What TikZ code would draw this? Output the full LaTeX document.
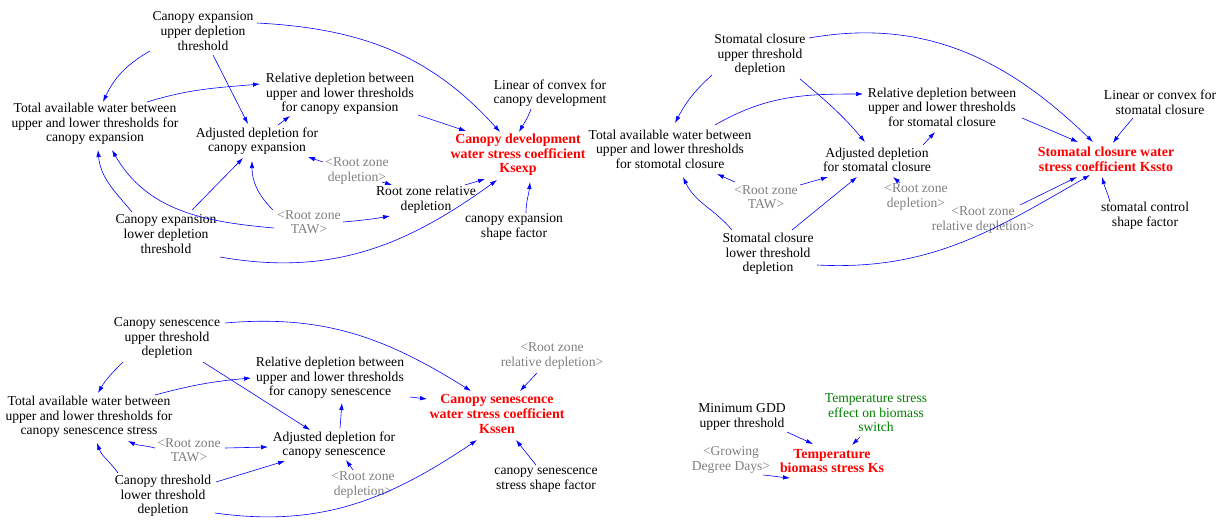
\documentclass[tikz,border=0pt]{standalone}
\usepackage{fontspec}
\setmainfont{Liberation Serif}
\usepackage{tikz}
\usetikzlibrary{arrows.meta, calc}
\definecolor{linkblue}{RGB}{0,0,255}
\definecolor{shadowgray}{RGB}{128,128,128}
\definecolor{stressred}{RGB}{255,0,0}
\definecolor{switchgreen}{RGB}{0,128,0}

\begin{document}
\begin{tikzpicture}[
    x=1pt, y=1pt,
    var/.style={align=center, inner sep=1pt,
                font=\fontsize{13.6}{14.6}\selectfont},
    shadow/.style={var, text=shadowgray},
    stress/.style={var, text=stressred, font=\fontsize{13.9}{14.6}\selectfont\bfseries},
    switchvar/.style={var, text=switchgreen},
    arrow/.style={-{Latex[length=7pt,width=4.5pt]}, draw=linkblue, line width=0.6pt}
]
\path[use as bounding box, fill=white] (0,0) rectangle (1225,-522);

% canopy expansion
\node[var]    (cexpU) at (203,-31)  {Canopy expansion\\upper depletion\\threshold};
\node[var]    (tawE)  at (95,-124)  {Total available water between\\upper and lower thresholds for\\canopy expansion};
\node[var]    (relE)  at (340,-94)  {Relative depletion between\\upper and lower thresholds\\for canopy expansion};
\node[var]    (adjE)  at (257,-141) {Adjusted depletion for\\canopy expansion};
\node[shadow] (rzdE)  at (357,-171) {<Root zone\\depletion>};
\node[var]    (rzrE)  at (426,-200) {Root zone relative\\depletion};
\node[shadow] (tawRE) at (309,-222) {<Root zone\\TAW>};
\node[var]    (cexpL) at (166,-234) {Canopy expansion\\lower depletion\\threshold};
\node[stress] (ksexp) at (518,-155) {Canopy development\\water stress coefficient\\Ksexp};
\node[var]    (linE)  at (550,-93)  {Linear of convex for\\canopy development};
\node[var]    (shpE)  at (514,-227) {canopy expansion\\shape factor};

\draw[arrow] ($(cexpU)+(-53,-20)$) to[out=210,in=65] ($(tawE)+(8,22)$);
\draw[arrow] ($(cexpU)+(10,-24)$) -- ($(adjE)+(-9,17)$);
\draw[arrow] ($(cexpU)+(54,8)$) to[out=-3,in=132] ($(ksexp)+(-18,23)$);
\draw[arrow] ($(tawE)+(52,22)$) to[out=17,in=185] ($(relE)+(-80,10)$);
\draw[arrow] ($(adjE)+(21,16)$) -- ($(relE)+(-50,-22)$);
\draw[arrow] ($(relE)+(78,-21)$) -- ($(ksexp)+(-52,24)$);
\draw[arrow] ($(linE)+(-19,-16)$) to[out=250,in=60] ($(ksexp)+(1,23)$);
\draw[arrow] ($(shpE)+(12,14)$) to[out=90,in=265] ($(ksexp)+(12,-27)$);
\draw[arrow] ($(rzdE)+(-34,9)$) -- ($(adjE)+(51,-16)$);
\draw[arrow] ($(rzdE)+(25,-11)$) -- ($(rzrE)+(-34,15)$);
\draw[arrow] ($(tawRE)+(34,0)$) to[out=5,in=190] ($(rzrE)+(-36,-16)$);
\draw[arrow] ($(tawRE)+(-36,12)$) to[out=135,in=270] ($(adjE)+(-5,-20)$);
\draw[arrow] ($(tawRE)+(-35,-6)$) to[out=175,in=300] ($(tawE)+(17,-26)$);
\draw[arrow] ($(cexpL)+(-34,22)$) to[out=130,in=275] ($(tawE)+(3,-26)$);
\draw[arrow] ($(cexpL)+(26,24)$) -- ($(adjE)+(-14,-17)$);
\draw[arrow] ($(rzrE)+(39,15)$) -- ($(ksexp)+(-33,-24)$);
\draw[arrow] ($(cexpL)+(54,-23)$) to[out=-10,in=216] ($(ksexp)+(-21,-25)$);

% stomatal closure
\node[var]    (stoU)  at (760,-55)  {Stomatal closure\\upper threshold\\depletion};
\node[var]    (tawS)  at (670,-149) {Total available water between\\upper and lower thresholds\\for stomotal closure};
\node[var]    (relS)  at (942,-107) {Relative depletion between\\upper and lower thresholds\\for stomatal closure};
\node[var]    (adjS)  at (877,-160) {Adjusted depletion\\for stomatal closure};
\node[shadow] (tawRS) at (766,-197) {<Root zone\\TAW>};
\node[shadow] (rzdS)  at (916,-197) {<Root zone\\depletion>};
\node[shadow] (rzrS)  at (983,-220) {<Root zone\\relative depletion>};
\node[var]    (stoL)  at (768,-254) {Stomatal closure\\lower threshold\\depletion};
\node[stress] (ksto)  at (1106,-159) {Stomatal closure water\\stress coefficient Kssto};
\node[var]    (linS)  at (1160,-102) {Linear or convex for\\stomatal closure};
\node[var]    (shpS)  at (1145,-216) {stomatal control\\shape factor};

\draw[arrow] ($(stoU)+(-48,-20)$) to[out=222,in=62] ($(tawS)+(5,26)$);
\draw[arrow] ($(stoU)+(40,-24)$) to[out=-40,in=130] ($(adjS)+(-12,18)$);
\draw[arrow] ($(stoU)+(49,17)$) to[out=10,in=136] ($(ksto)+(-13,17)$);
\draw[arrow] ($(tawS)+(45,24)$) to[out=30,in=180] ($(relS)+(-79,13)$);
\draw[arrow] ($(adjS)+(46,15)$) -- ($(relS)+(-7,-25)$);
\draw[arrow] ($(relS)+(80,-11)$) -- ($(ksto)+(-28,17)$);
\draw[arrow] ($(linS)+(-27,-16)$) to[out=230,in=55] ($(ksto)+(7,16)$);
\draw[arrow] ($(shpS)+(-35,14)$) to[out=105,in=285] ($(ksto)+(-4,-18)$);
\draw[arrow] ($(tawRS)+(-31,15)$) -- ($(tawS)+(47,-25)$);
\draw[arrow] ($(tawRS)+(34,12)$) -- ($(adjS)+(-49,-17)$);
\draw[arrow] ($(rzdS)+(-16,14)$) -- ($(adjS)+(16,-17)$);
\draw[arrow] ($(rzrS)+(37,15)$) -- ($(ksto)+(-29,-18)$);
\draw[arrow] ($(stoL)+(-36,24)$) to[out=130,in=295] ($(tawS)+(13,-28)$);
\draw[arrow] ($(stoL)+(24,24)$) -- ($(adjS)+(-20,-17)$);
\draw[arrow] ($(stoL)+(49,-11)$) to[out=-3,in=210] ($(ksto)+(-16,-16)$);

% canopy senescence
\node[var]    (senU)  at (167,-338) {Canopy senescence\\upper threshold\\depletion};
\node[var]    (tawN)  at (89,-417)  {Total available water between\\upper and lower thresholds for\\canopy senescence stress};
\node[var]    (relN)  at (330,-378) {Relative depletion between\\upper and lower thresholds\\for canopy senescence};
\node[var]    (adjN)  at (334,-445) {Adjusted depletion for\\canopy senescence};
\node[shadow] (tawRN) at (189,-450) {<Root zone\\TAW>};
\node[shadow] (rzdN)  at (363,-485) {<Root zone\\depletion>};
\node[var]    (senL)  at (163,-496) {Canopy threshold\\lower threshold\\depletion};
\node[stress] (kssen) at (497,-414) {Canopy senescence\\water stress coefficient\\Kssen};
\node[shadow] (rzrN)  at (552,-356) {<Root zone\\relative depletion>};
\node[var]    (shpN)  at (546,-480) {canopy senescence\\stress shape factor};

\draw[arrow] ($(senU)+(-44,-24)$) to[out=225,in=60] ($(tawN)+(9,24)$);
\draw[arrow] ($(senU)+(36,-24)$) -- ($(adjN)+(-24,15)$);
\draw[arrow] ($(senU)+(58,15)$) to[out=5,in=148] ($(kssen)+(-26,23)$);
\draw[arrow] ($(tawN)+(66,22)$) to[out=15,in=185] ($(relN)+(-79,0)$);
\draw[arrow] ($(adjN)+(6,17)$) to[out=85,in=265] ($(relN)+(12,-25)$);
\draw[arrow] ($(relN)+(80,-19)$) -- ($(kssen)+(-70,15)$);
\draw[arrow] ($(rzrN)+(-15,-17)$) -- ($(kssen)+(23,23)$);
\draw[arrow] ($(shpN)+(-10,15)$) -- ($(kssen)+(19,-26)$);
\draw[arrow] ($(tawRN)+(-34,2)$) to[out=165,in=335] ($(tawN)+(39,-24)$);
\draw[arrow] ($(tawRN)+(36,2)$) -- ($(adjN)+(-66,-2)$);
\draw[arrow] ($(rzdN)+(-10,15)$) -- ($(adjN)+(12,-15)$);
\draw[arrow] ($(senL)+(-45,23)$) to[out=125,in=290] ($(tawN)+(8,-26)$);
\draw[arrow] ($(senL)+(53,14)$) -- ($(adjN)+(-49,-16)$);
\draw[arrow] ($(senL)+(52,-17)$) to[out=-8,in=214] ($(kssen)+(-20,-26)$);

% temperature stress
\node[var]       (gddU) at (742,-417) {Minimum GDD\\upper threshold};
\node[switchvar] (tsw)  at (876,-413) {Temperature stress\\effect on biomass\\switch};
\node[shadow]    (gdd)  at (731,-460) {<Growing\\Degree Days>};
\node[stress]    (tks)  at (832,-461) {Temperature\\biomass stress Ks};

\draw[arrow] ($(gddU)+(45,-15)$) -- ($(tks)+(-19,17)$);
\draw[arrow] ($(tsw)+(-16,-24)$) -- ($(tks)+(20,16)$);
\draw[arrow] ($(gdd)+(32,-15)$) to[out=-5,in=175] ($(tks)+(-42,-17)$);
\end{tikzpicture}
\end{document}
